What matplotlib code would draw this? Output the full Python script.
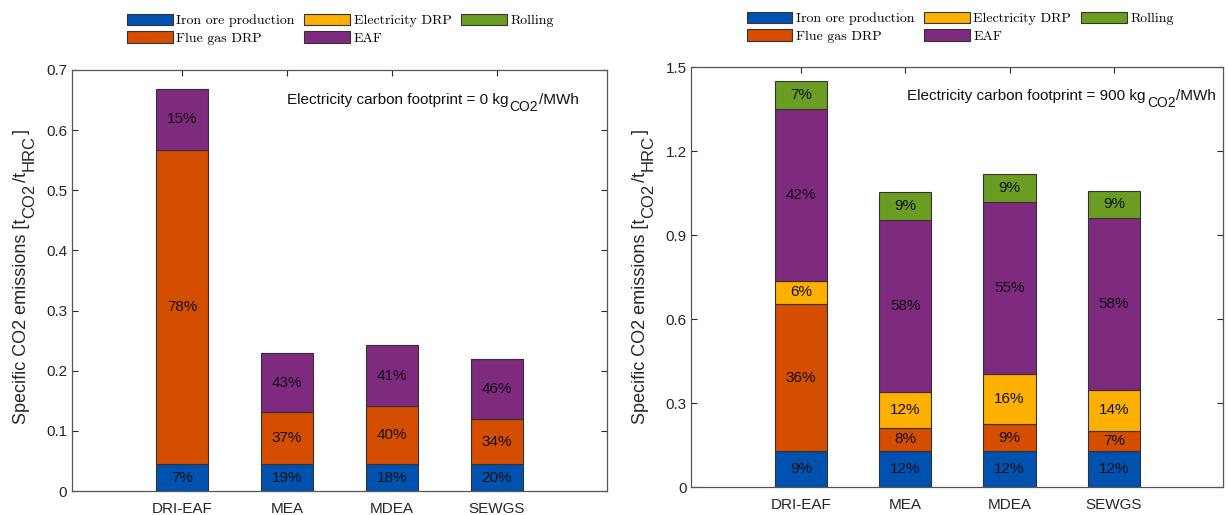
import numpy as np
import matplotlib
matplotlib.use('Agg')
import matplotlib.pyplot as plt
from matplotlib.patches import Patch
from matplotlib.ticker import FormatStrFormatter
from matplotlib.transforms import offset_copy

plt.rcParams['font.family'] = ['Liberation Sans', 'DejaVu Sans']

cases = ['DRI-EAF', 'MEA', 'MDEA', 'SEWGS']
stages = ['Iron ore production', 'Flue gas DRP', 'Electricity DRP', 'EAF', 'Rolling']
colors = ['#0052B0', '#D54E00', '#FDB000', '#7E2A7E', '#6A9E22']

# electricity footprint 0 kg/MWh  [t_CO2 / t_HRC]
iron_0 = [0.0446, 0.0446, 0.0446, 0.0446]
flue_0 = [0.523, 0.086, 0.0974, 0.0744]
elec_0 = [0.0, 0.0, 0.0, 0.0]
eaf_0 = [0.1004, 0.0994, 0.100, 0.100]
roll_0 = [0.0, 0.0, 0.0, 0.0]

# electricity footprint 900 kg/MWh
iron_900 = [0.129, 0.129, 0.129, 0.129]
flue_900 = [0.525, 0.084, 0.097, 0.073]
elec_900 = [0.084, 0.128, 0.180, 0.146]
eaf_900 = [0.613, 0.615, 0.614, 0.614]
roll_900 = [0.101, 0.100, 0.099, 0.097]

footprints = [0, 900]
yticks_0 = np.arange(0, 0.71, 0.1)
yticks_900 = np.arange(0, 1.51, 0.3)

fig = plt.figure(figsize=(12.28, 5.15), dpi=100)
ax1 = fig.add_axes([0.0586, 0.0466, 0.4357, 0.8175])
ax2 = fig.add_axes([0.5630, 0.0538, 0.4332, 0.8155])
renderer = fig.canvas.get_renderer()


def rich_text(x, y, pieces, transform, rotation=0, color='#111111'):
    # pieces: (text, fontsize, drop in px) -> matlab style big subscripts
    pos = 0
    for s, size, drop in pieces:
        if rotation == 0:
            tr = offset_copy(transform, fig=fig, x=pos, y=-drop, units='dots')
        else:
            tr = offset_copy(transform, fig=fig, x=drop, y=pos, units='dots')
        t = fig.text(x, y, s, transform=tr, fontsize=size, rotation=rotation,
                     rotation_mode='anchor', ha='left', va='baseline', color=color)
        ext = t.get_window_extent(renderer)
        pos += (ext.width if rotation == 0 else ext.height) + 1


def stacked(ax, data, yticks, fp, ann_xy, ylab_x):
    data = np.array(data)
    x = np.arange(1, len(cases) + 1)
    total = data.sum(axis=0)
    bottom = np.zeros(len(cases))
    for k in range(len(stages)):
        ax.bar(x, data[k], 0.5, bottom=bottom, color=colors[k],
               edgecolor='#333333', linewidth=0.8, zorder=2)
        for i in range(len(cases)):
            if data[k, i] > 0:
                ax.text(x[i], bottom[i] + data[k, i] / 2,
                        '%d%%' % round(100 * data[k, i] / total[i]),
                        ha='center', va='center', fontsize=11, color='#111111', zorder=3)
        bottom += data[k]
    ax.set_xlim(-0.05, 5.05)
    ax.set_ylim(yticks[0], yticks[-1])
    ax.set_xticks(x)
    ax.set_xticklabels(cases)
    ax.set_yticks(yticks)
    ax.yaxis.set_major_formatter(FormatStrFormatter('%g'))
    ax.tick_params(direction='in', top=True, right=True, labelsize=11,
                   colors='#262626', length=4, width=0.8)
    ax.tick_params(axis='x', pad=8)
    for s in ax.spines.values():
        s.set_color('#555555')
        s.set_linewidth(0.9)
    rich_text(ann_xy[0], ann_xy[1],
              [('Electricity carbon footprint = %d kg' % fp, 11, 0), ('CO2', 10, 7), ('/MWh', 11, 0)],
              ax.transAxes)
    rich_text(ylab_x, 91 / 515,
              [('Specific CO2 emissions [t', 13, 0), ('CO2', 12, 8), ('/t', 13, 0),
               ('HRC', 12, 8), (']', 13, 0)],
              fig.transFigure, rotation=90, color='#262626')


stacked(ax1, [iron_0, flue_0, elec_0, eaf_0, roll_0], yticks_0, footprints[0],
        (0.401, 0.919), 26 / 1228)
stacked(ax2, [iron_900, flue_900, elec_900, eaf_900, roll_900], yticks_900, footprints[1],
        (0.406, 0.922), 645 / 1228)

handles = [Patch(facecolor=c, edgecolor='#333333', linewidth=0.8, label=s)
           for c, s in zip(colors, stages)]
for anchor in [(126.7 / 1228, 1 - 13.7 / 515), (746.5 / 1228, 1 - 11.7 / 515)]:
    fig.legend(handles=handles, loc='upper left', bbox_to_anchor=anchor, ncol=3,
               frameon=False, prop={'family': 'cmr10', 'size': 10},
               handlelength=3.3, handleheight=0.91, handletextpad=0.24,
               columnspacing=0.72, labelspacing=0.3, borderpad=0, borderaxespad=0)

fig.savefig('out.png', dpi=100)
